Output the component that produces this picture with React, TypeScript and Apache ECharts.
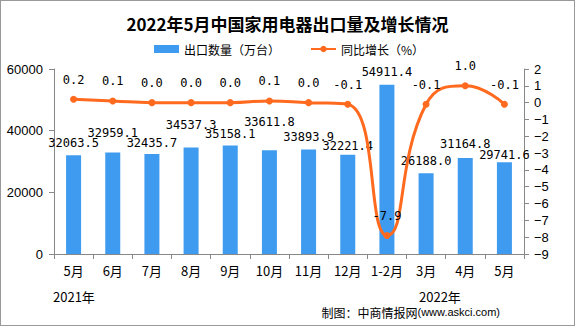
import React, { useEffect, useRef } from "react";
import * as echarts from "echarts";

const categories = ["5月", "6月", "7月", "8月", "9月", "10月", "11月", "12月", "1-2月", "3月", "4月", "5月"];
const exportVolume = [32063.5, 32959.1, 32435.7, 34537.3, 35158.1, 33611.8, 33893.9, 32221.4, 54911.4, 26188.0, 31164.8, 29741.6];
const yoyGrowth = [0.2, 0.1, 0.0, 0.0, 0.0, 0.1, 0.0, -0.1, -7.9, -0.1, 1.0, -0.1];
const leftTicks = { min: 0, max: 60000, interval: 20000 };
const rightTicks = { min: -9, max: 2, interval: 1 };
// label lift above each bar (staggered to avoid overlap, as in the reference)
const barLabelLift = [6, 13, 5, 17, 6, 22, 6, 3, 7, 6, 8, 1];

const BAR = "#3F9BEF";
const LINE = "#FF6A1F";
const CJK = "'Noto Sans CJK SC', 'Noto Sans', sans-serif";

export default function App() {
  const ref = useRef<HTMLDivElement>(null);
  useEffect(() => {
    if (!ref.current) return;
    const chart = echarts.init(ref.current, null, { renderer: "svg" });
    chart.setOption({
      animation: false,
      backgroundColor: "#fff",
      title: {
        text: "2022年5月中国家用电器出口量及增长情况",
        left: "center",
        top: 9,
        textStyle: { fontFamily: CJK, fontSize: 17, fontWeight: "bold", color: "#000" },
      },
      legend: {
        top: 37,
        left: 148,
        itemGap: 30,
        itemWidth: 25,
        itemHeight: 8,
        textStyle: { fontFamily: CJK, fontSize: 12, color: "#000" },
        data: [
          { name: "出口数量（万台）", icon: "rect" },
          { name: "同比增长（%）" },
        ],
      },
      grid: { left: 53, right: 50, top: 68, bottom: 71 },
      xAxis: {
        type: "category",
        data: categories,
        boundaryGap: true,
        axisLine: { lineStyle: { color: "#888" } },
        axisTick: { show: true, length: 5, lineStyle: { color: "#888" } },
        axisLabel: { interval: 0, fontFamily: CJK, fontSize: 13, color: "#000", margin: 10 },
      },
      yAxis: [
        {
          type: "value",
          ...leftTicks,
          axisLine: { show: true, lineStyle: { color: "#888" } },
          axisTick: { show: true, length: 5, lineStyle: { color: "#888" } },
          splitLine: { show: false },
          axisLabel: {
            fontFamily: "'Liberation Sans', sans-serif",
            fontSize: 13,
            color: "#000",
            margin: 11,
            formatter: (v: number) => String(v),
          },
        },
        {
          type: "value",
          ...rightTicks,
          position: "right",
          axisLine: { show: true, lineStyle: { color: "#888" } },
          axisTick: { show: true, length: 5, lineStyle: { color: "#888" } },
          splitLine: { show: false },
          axisLabel: {
            fontFamily: "'Liberation Sans', sans-serif",
            fontSize: 13,
            color: "#000",
            margin: 10,
            formatter: (v: number) => (v < 0 ? "−" + Math.abs(v) : String(v)),
          },
        },
      ],
      series: [
        {
          name: "出口数量（万台）",
          type: "bar",
          yAxisIndex: 0,
          data: exportVolume.map((v, i) => ({
            value: v,
            label: { distance: barLabelLift[i] },
          })),
          barWidth: 15,
          itemStyle: { color: BAR },
          label: {
            show: true,
            position: "top",
            fontFamily: "'DejaVu Sans Mono', monospace",
            fontSize: 12,
            color: "#000",
            formatter: (p: any) => Number(p.value).toFixed(1),
          },
        },
        {
          name: "同比增长（%）",
          type: "line",
          yAxisIndex: 1,
          data: yoyGrowth,
          smooth: 0.5,
          symbol: "circle",
          symbolSize: 7,
          lineStyle: { color: LINE, width: 3 },
          itemStyle: { color: LINE },
          label: {
            show: true,
            position: "top",
            distance: 10,
            fontFamily: "'DejaVu Sans Mono', monospace",
            fontSize: 12,
            color: "#000",
            formatter: (p: any) => Number(p.value).toFixed(1),
          },
        },
      ],
      graphic: [
        {
          type: "text",
          left: 52,
          top: 289,
          style: { text: "2021年", fontFamily: CJK, fontSize: 13, fill: "#000" },
        },
        {
          type: "text",
          left: 418,
          top: 289,
          style: { text: "2022年", fontFamily: CJK, fontSize: 13, fill: "#000" },
        },
        {
          type: "text",
          right: 74,
          top: 305,
          style: {
            rich: {
              a: { fontFamily: CJK, fontSize: 12, fill: "#000" },
              b: { fontFamily: "'Liberation Sans', sans-serif", fontSize: 11, fill: "#000" },
            },
            text: "{a|制图：中商情报网}{b|(www.askci.com)}",
          },
        },
      ],
    });
    return () => chart.dispose();
  }, []);
  return (
    <div
      style={{
        position: "fixed",
        left: 0,
        top: 0,
        width: 575,
        height: 326,
        boxSizing: "border-box",
        border: "1px solid #999",
        background: "#fff",
      }}
    >
      <div ref={ref} style={{ width: 573, height: 324 }} />
    </div>
  );
}
